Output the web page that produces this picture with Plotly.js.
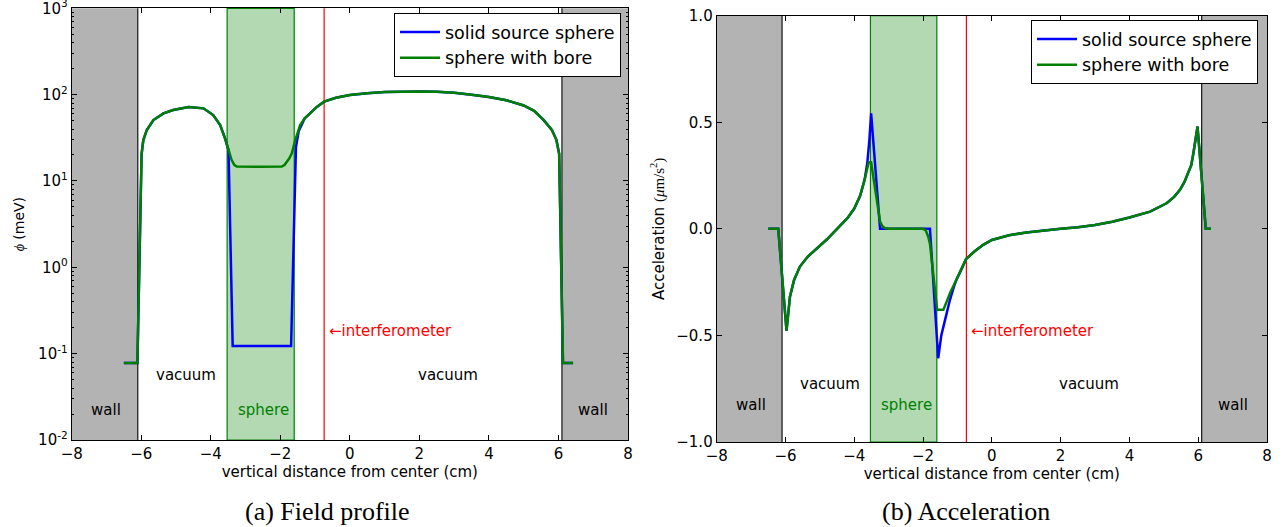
<!DOCTYPE html>
<html><head><meta charset="utf-8">
<script src="https://cdn.plot.ly/plotly-3.0.1.min.js"></script>
<style>html,body{margin:0;padding:0;background:#fff}</style>
</head><body><div id="chart" style="width:1283px;height:527px"></div>
<script>
// ---- (a) Field profile, phi in meV ----
const phiSolidX = [-6.5, -6.11, -5.99, -5.94, -5.84, -5.65, -5.36, -5.08, -4.64, -4.21, -3.93, -3.73, -3.59, -3.49, -3.37, -1.69, -1.55, -1.47, -1.3, -1.14, -0.95, -0.74, -0.4, 0, 0.5, 1, 1.5, 2, 2.5, 3, 3.5, 4, 4.5, 5, 5.3, 5.57, 5.81, 5.94, 6.02, 6.13, 6.42];
const phiSolidY = [0.078, 0.078, 20.5, 29.8, 39, 50.8, 60.7, 66.3, 72, 69.4, 58, 44.5, 31.2, 22.8, 0.123, 0.123, 24.7, 38, 53, 60.7, 72, 83, 92, 99, 104, 107, 109, 109, 108, 105, 100, 94, 86, 75, 65, 51, 39, 30, 20.6, 0.078, 0.078];
const phiBoreX = [-6.5, -6.11, -5.99, -5.94, -5.84, -5.65, -5.36, -5.08, -4.64, -4.21, -3.93, -3.73, -3.59, -3.49, -3.40, -3.32, -3.25, -2.6, -1.96, -1.88, -1.81, -1.74, -1.67, -1.57, -1.43, -1.3, -1.14, -0.95, -0.74, -0.4, 0, 0.5, 1, 1.5, 2, 2.5, 3, 3.5, 4, 4.5, 5, 5.3, 5.57, 5.81, 5.94, 6.02, 6.13, 6.42];
const phiBoreY = [0.078, 0.078, 20.5, 29.8, 39, 50.8, 60.7, 66.3, 72, 69.4, 58, 44.5, 31.2, 22.8, 17.5, 15.3, 14.7, 14.6, 14.7, 15.3, 16.7, 18.3, 20.9, 29.8, 44.5, 53, 60.7, 72, 83, 92, 99, 104, 107, 109, 109, 108, 105, 100, 94, 86, 75, 65, 51, 39, 30, 20.6, 0.078, 0.078];

// ---- (b) Acceleration, um/s^2 ----
const accSolidX = [-6.5, -6.21, -5.97, -5.87, -5.75, -5.58, -5.35, -5.09, -4.8, -4.5, -4.2, -4.0, -3.83, -3.7, -3.62, -3.56, -3.51, -3.25, -1.8, -1.56, -1.47, -1.36, -1.22, -1.1, -1.02, -0.9, -0.75, -0.5, -0.25, 0, 0.5, 1, 1.5, 2, 2.5, 3, 3.5, 4, 4.6, 5.08, 5.3, 5.47, 5.6, 5.71, 5.8, 5.86, 5.92, 5.98, 6.22, 6.37];
const accSolidY = [0, 0, -0.478, -0.318, -0.24, -0.177, -0.13, -0.091, -0.05, 0.0, 0.05, 0.095, 0.155, 0.23, 0.31, 0.42, 0.542, 0, 0, -0.607, -0.5, -0.427, -0.334, -0.27, -0.235, -0.195, -0.142, -0.105, -0.075, -0.052, -0.03, -0.017, -0.007, 0, 0.008, 0.018, 0.033, 0.053, 0.081, 0.12, 0.15, 0.183, 0.22, 0.26, 0.3, 0.355, 0.41, 0.48, 0, 0];
const accBoreX = [-6.5, -6.21, -5.97, -5.87, -5.75, -5.58, -5.35, -5.09, -4.8, -4.5, -4.2, -4.0, -3.83, -3.7, -3.62, -3.58, -3.51, -3.25, -3.18, -3.1, -3.0, -2.0, -1.92, -1.85, -1.80, -1.59, -1.41, -1.3, -1.2, -1.1, -1.02, -0.9, -0.75, -0.5, -0.25, 0, 0.5, 1, 1.5, 2, 2.5, 3, 3.5, 4, 4.6, 5.08, 5.3, 5.47, 5.6, 5.71, 5.8, 5.86, 5.92, 5.98, 6.22, 6.37];
const accBoreY = [0, 0, -0.478, -0.318, -0.24, -0.177, -0.13, -0.091, -0.05, 0.0, 0.05, 0.095, 0.155, 0.23, 0.29, 0.312, 0.312, 0.034, 0.012, 0.003, 0, 0, -0.008, -0.037, -0.07, -0.38, -0.38, -0.33, -0.295, -0.262, -0.235, -0.195, -0.142, -0.105, -0.075, -0.052, -0.03, -0.017, -0.007, 0, 0.008, 0.018, 0.033, 0.053, 0.081, 0.12, 0.15, 0.183, 0.22, 0.26, 0.3, 0.355, 0.41, 0.48, 0, 0];

// ---- ticks and regions ----
const xTickVals = [-8, -6, -4, -2, 0, 2, 4, 6, 8];
const xTickText = ['−8', '−6', '−4', '−2', '0', '2', '4', '6', '8'];
const phiTickVals = [0.01, 0.1, 1, 10, 100, 1000];
const phiTickText = ['10<sup>-2</sup>', '10<sup>-1</sup>', '10<sup>0</sup>', '10<sup>1</sup>', '10<sup>2</sup>', '10<sup>3</sup>'];
const accTickVals = [-1, -0.5, 0, 0.5, 1];
const accTickText = ['−1.0', '−0.5', '0.0', '0.5', '1.0'];
const wallEdge = 6.1;
const sphereEdges = [-3.53, -1.6];
const interferometerX = -0.74;
const seriesNames = ['solid source sphere', 'sphere with bore'];
const captions = ['(a) Field profile', '(b) Acceleration'];

const minorLog = [];
for (let e = -2; e < 3; e++) for (let m = 2; m <= 9; m++) minorLog.push(m * Math.pow(10, e));

const FONT = 'DejaVu Sans';
const blue = '#0000ff', green = '#008000';
const lw = 2.5;
const W = 1283, H = 527;
const xDom1 = [71.7 / W, 628 / W], xDom2 = [716.7 / W, 1267 / W];
const yDom1 = [(H - 440) / H, (H - 8.3) / H], yDom2 = [(H - 442) / H, (H - 15.7) / H];
const xRange = [-8, 8], phiRange = [-2, 3], accRange = [-1, 1];

// map axis values to paper fractions (for text labels)
const toPaper = (v, r, d) => d[0] + (v - r[0]) / (r[1] - r[0]) * (d[1] - d[0]);

const traces = [
  {x: phiSolidX, y: phiSolidY, xaxis: 'x', yaxis: 'y', name: seriesNames[0], mode: 'lines', line: {color: blue, width: lw}, legend: 'legend'},
  {x: phiBoreX, y: phiBoreY, xaxis: 'x', yaxis: 'y', name: seriesNames[1], mode: 'lines', line: {color: green, width: lw}, legend: 'legend'},
  {x: accSolidX, y: accSolidY, xaxis: 'x2', yaxis: 'y2', name: seriesNames[0], mode: 'lines', line: {color: blue, width: lw}, legend: 'legend2'},
  {x: accBoreX, y: accBoreY, xaxis: 'x2', yaxis: 'y2', name: seriesNames[1], mode: 'lines', line: {color: green, width: lw}, legend: 'legend2'}
];

function regionShapes(xr, yr) {
  const yd = yr + ' domain';
  return [
    {type: 'rect', xref: xr, yref: yd, x0: -8, x1: -wallEdge, y0: 0, y1: 1, fillcolor: '#b3b3b3', line: {width: 0}, layer: 'below'},
    {type: 'rect', xref: xr, yref: yd, x0: wallEdge, x1: 8, y0: 0, y1: 1, fillcolor: '#b3b3b3', line: {width: 0}, layer: 'below'},
    {type: 'line', xref: xr, yref: yd, x0: -wallEdge, x1: -wallEdge, y0: 0, y1: 1, line: {color: '#222', width: 1.3}, layer: 'below'},
    {type: 'line', xref: xr, yref: yd, x0: wallEdge, x1: wallEdge, y0: 0, y1: 1, line: {color: '#222', width: 1.3}, layer: 'below'},
    {type: 'rect', xref: xr, yref: yd, x0: sphereEdges[0], x1: sphereEdges[1], y0: 0, y1: 1, fillcolor: 'rgba(0,128,0,0.3)', line: {color: green, width: 1.2}, layer: 'below'},
    {type: 'line', xref: xr, yref: yd, x0: interferometerX, x1: interferometerX, y0: 0, y1: 1, line: {color: '#ff0000', width: 1.2}, layer: 'below'}
  ];
}

const axisBase = {showline: true, linecolor: 'black', linewidth: 1, mirror: 'ticks', ticks: 'inside', ticklen: 5, tickcolor: 'black', showgrid: false, zeroline: false, ticklabeloverflow: 'allow', tickfont: {family: FONT, size: 15, color: 'black'}};

const xaxisCommon = Object.assign({}, axisBase, {range: xRange, tickmode: 'array', tickvals: xTickVals, ticktext: xTickText,
  title: {text: 'vertical distance from center (cm)', font: {family: FONT, size: 15, color: 'black'}, standoff: 4}});

// label in plot 1 (y given as fraction of axis height) or plot 2 (y in data units)
function lbl1(text, x, yFrac, color, anchor) {
  return {text: text, xref: 'paper', yref: 'paper', x: toPaper(x, xRange, xDom1), y: yDom1[0] + yFrac * (yDom1[1] - yDom1[0]),
    xanchor: anchor || 'center', yanchor: 'middle', showarrow: false, font: {family: FONT, size: 15, color: color || 'black'}};
}
function lbl2(text, x, y, color, anchor) {
  return {text: text, xref: 'paper', yref: 'paper', x: toPaper(x, xRange, xDom2), y: toPaper(y, accRange, yDom2),
    xanchor: anchor || 'center', yanchor: 'middle', showarrow: false, font: {family: FONT, size: 15, color: color || 'black'}};
}

const annotations = [
  lbl1('wall', -7.0, 0.069),
  lbl1('vacuum', -4.72, 0.151),
  lbl1('sphere', -2.49, 0.069, green),
  lbl1('vacuum', 2.83, 0.151),
  lbl1('wall', 7.0, 0.069),
  lbl1('←interferometer', -0.66, 0.252, '#ff0000', 'left'),
  lbl2('wall', -6.99, -0.826),
  lbl2('vacuum', -4.72, -0.727),
  lbl2('sphere', -2.48, -0.826, green),
  lbl2('vacuum', 2.83, -0.727),
  lbl2('wall', 7.0, -0.826),
  lbl2('←interferometer', -0.66, -0.479, '#ff0000', 'left'),
  {text: captions[0], xref: 'paper', yref: 'paper', x: 327 / W, y: (H - 511) / H, xanchor: 'center', yanchor: 'middle', showarrow: false, font: {family: 'Liberation Serif', size: 26, color: 'black'}},
  {text: captions[1], xref: 'paper', yref: 'paper', x: 966 / W, y: (H - 511) / H, xanchor: 'center', yanchor: 'middle', showarrow: false, font: {family: 'Liberation Serif', size: 26, color: 'black'}}
];

const legendBase = {bordercolor: 'black', borderwidth: 1, bgcolor: 'white', font: {family: FONT, size: 17.5, color: 'black'}, xanchor: 'right', yanchor: 'top', itemwidth: 40};

const layout = {
  width: W, height: H,
  margin: {l: 0, r: 0, t: 0, b: 0},
  paper_bgcolor: 'white', plot_bgcolor: 'white',
  showlegend: true,
  legend: Object.assign({}, legendBase, {x: 621 / W, y: (H - 13) / H}),
  legend2: Object.assign({}, legendBase, {x: 1258 / W, y: (H - 20) / H}),
  xaxis: Object.assign({}, xaxisCommon, {domain: xDom1, anchor: 'y'}),
  yaxis: Object.assign({}, axisBase, {domain: yDom1, anchor: 'x', type: 'log', range: [phiRange[0], phiRange[1] + 0.0001],
    tickmode: 'array', tickvals: phiTickVals, ticktext: phiTickText,
    minor: {tickmode: 'array', tickvals: minorLog, ticks: 'inside', ticklen: 2.5, tickcolor: 'black', showgrid: false},
    title: {text: '<span style="font-family:Liberation Serif"><i>ϕ</i></span> (meV)', font: {family: FONT, size: 14, color: 'black'}, standoff: 10}}),
  xaxis2: Object.assign({}, xaxisCommon, {domain: xDom2, anchor: 'y2'}),
  yaxis2: Object.assign({}, axisBase, {domain: yDom2, anchor: 'x2', range: accRange,
    tickmode: 'array', tickvals: accTickVals, ticktext: accTickText,
    title: {text: 'Acceleration <span style="font-family:Liberation Serif">(<i>μ</i>m/s<sup>2</sup>)</span>', font: {family: FONT, size: 15, color: 'black'}, standoff: 8}}),
  shapes: regionShapes('x', 'y').concat(regionShapes('x2', 'y2')),
  annotations: annotations
};

Plotly.newPlot('chart', traces, layout, {displayModeBar: false});
</script></body></html>
